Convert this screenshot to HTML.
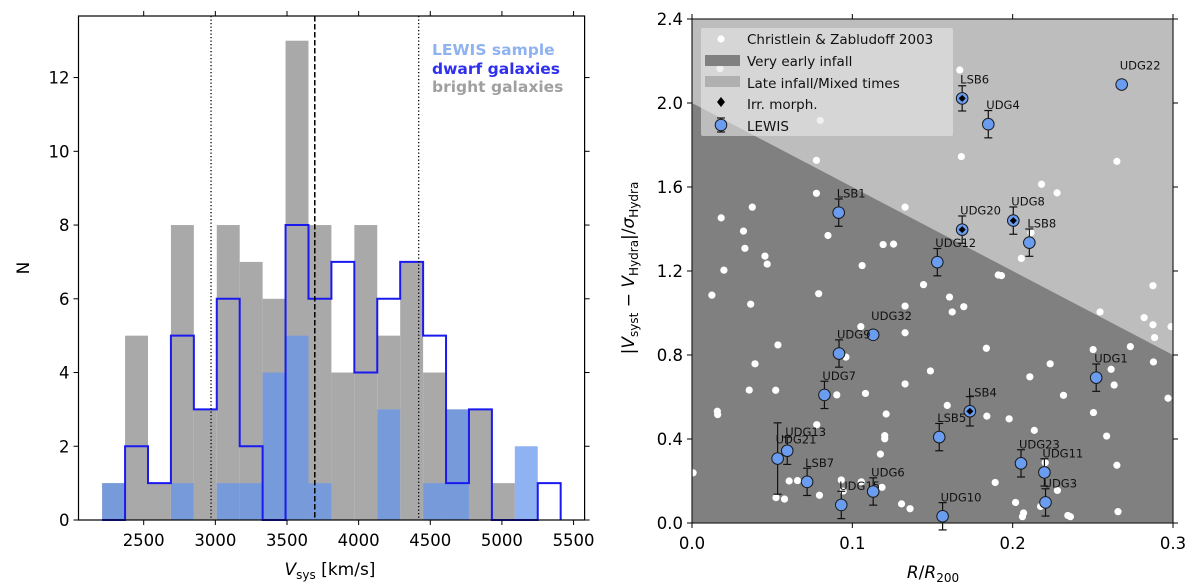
<!DOCTYPE html>
<html><head><meta charset="utf-8">
<style>
html,body{margin:0;padding:0;background:#fff;}
svg{display:block;font-family:"DejaVu Sans","Liberation Sans",sans-serif;}
</style></head>
<body>
<svg id="fig" width="1200" height="588" viewBox="0 0 1200 588">
<g id="left"></g>
<g id="right"></g>
</svg>
<script>
// ---------- Left histogram data ----------
const binStart = 2210;
const binWidth = 160;
const brightCounts = [1,5,1,8,3,8,7,6,13,8,4,8,5,7,4,3,3,1,0,0];
const lewisCounts  = [1,0,0,1,0,1,1,4,5,1,0,0,3,0,1,3,0,0,2,0];
const dwarfCounts  = [0,2,1,5,3,6,2,0,8,6,7,4,6,7,5,1,3,0,0,1];
const vLinesDotted = [2970, 4419];
const vLineDashed = [3694];
const leftXTicks = [2500,3000,3500,4000,4500,5000,5500];
const leftYTicks = [0,2,4,6,8,10,12];

// ---------- Right scatter data ----------
const czX = [0.0175,0.080,0.167,0.168,0.265,0.0776,0.0776,0.218,0.2277,0.1329,0.0376,0.0182,0.0321,0.0848,0.2114,0.033,0.0455,0.0469,0.0199,0.1192,0.1257,0.1061,0.2054,0.191,0.193,0.1444,0.0124,0.079,0.2875,0.0366,0.1329,0.1606,0.1623,0.1695,0.2545,0.282,0.2875,0.2885,0.2988,0.1053,0.1329,0.0536,0.2734,0.2502,0.1836,0.0393,0.096,0.2234,0.2878,0.2614,0.2107,0.1487,0.0357,0.0522,0.1329,0.1082,0.0903,0.2633,0.2317,0.2969,0.1592,0.1211,0.1839,0.1978,0.2504,0.0158,0.016,0.0778,0.2135,0.1202,0.1202,0.2586,0.1175,0.265,0.2203,0.0007,0.0606,0.0658,0.1891,0.0931,0.0943,0.1056,0.1185,0.0795,0.0524,0.0577,0.1307,0.136,0.2018,0.2068,0.2061,0.2174,0.2279,0.2344,0.236,0.2657];
const czY = [2.163,1.917,2.157,1.745,1.722,1.727,1.570,1.613,1.572,1.504,1.504,1.453,1.390,1.369,1.383,1.308,1.271,1.233,1.204,1.326,1.328,1.226,1.260,1.181,1.178,1.135,1.085,1.092,1.130,1.042,1.033,1.076,1.005,1.030,1.005,0.978,0.944,0.883,0.935,0.935,0.906,0.848,0.840,0.826,0.832,0.758,0.790,0.758,0.767,0.732,0.696,0.724,0.633,0.632,0.662,0.617,0.610,0.657,0.608,0.594,0.560,0.519,0.509,0.496,0.526,0.532,0.516,0.468,0.441,0.416,0.401,0.414,0.328,0.275,0.287,0.239,0.200,0.202,0.193,0.205,0.152,0.196,0.170,0.132,0.121,0.114,0.091,0.068,0.098,0.048,0.030,0.079,0.155,0.036,0.030,0.054];
const lewisNames = ["UDG22","LSB6","UDG4","LSB1","UDG20","UDG8","LSB8","UDG12","UDG32","UDG9","UDG7","UDG1","LSB4","LSB5","UDG21","UDG13","LSB7","UDG15","UDG6","UDG10","UDG23","UDG11","UDG3"];
const lewisX = [0.268,0.1685,0.1848,0.0915,0.1685,0.2004,0.2104,0.153,0.113,0.0917,0.0826,0.2521,0.1733,0.1542,0.0534,0.0594,0.0718,0.0931,0.113,0.1563,0.2052,0.2198,0.2205];
const lewisY = [2.088,2.022,1.899,1.478,1.397,1.440,1.335,1.242,0.896,0.807,0.610,0.692,0.532,0.409,0.307,0.344,0.196,0.086,0.150,0.032,0.284,0.241,0.098];
const lewisErr = [0,0.06,0.065,0.065,0.065,0.065,0.065,0.065,0,0.065,0.065,0.065,0.07,0.065,0.17,0.065,0.065,0.065,0.065,0.065,0.065,0.065,0.065];
const lewisIrr = [0,1,0,0,1,1,0,0,0,0,0,0,1,0,0,0,0,0,0,0,0,0,0];
const boundaryX = [0, 0.3];
const boundaryY = [2.0, 0.8];
const rightXTicks = [0.0,0.1,0.2,0.3];
const rightYTicks = [0.0,0.4,0.8,1.2,1.6,2.0,2.4];

const NS = "http://www.w3.org/2000/svg";
function mk(tag, attrs, parent){const e=document.createElementNS(NS,tag);for(const k in attrs)e.setAttribute(k,attrs[k]);parent.appendChild(e);return e;}

// ====== LEFT ======
const L = document.getElementById('left');
const LX0=78.5, LX1=584.6, LY0=520, LY1=16;
const lxMin=2045, lxMax=5577, lyMin=0, lyMax=13.67;
const lx = v => LX0 + (v-lxMin)/(lxMax-lxMin)*(LX1-LX0);
const ly = v => LY0 - (v-lyMin)/(lyMax-lyMin)*(LY0-LY1);

brightCounts.forEach((c,i)=>{ if(!c) return;
  const r=mk('rect',{x:lx(binStart+i*binWidth),y:ly(c),width:lx(binStart+(i+1)*binWidth)-lx(binStart+i*binWidth),height:ly(0)-ly(c),fill:'#a9a9a9'},L);
  
  
});
lewisCounts.forEach((c,i)=>{ if(!c) return;
  const r=mk('rect',{x:lx(binStart+i*binWidth),y:ly(c),width:lx(binStart+(i+1)*binWidth)-lx(binStart+i*binWidth),height:ly(0)-ly(c),fill:'#6495ed','fill-opacity':0.72},L);
  
  
});
{ let d='M'+lx(binStart)+','+ly(0);
  dwarfCounts.forEach((c,i)=>{ d+=' L'+lx(binStart+i*binWidth)+','+ly(c)+' L'+lx(binStart+(i+1)*binWidth)+','+ly(c); });
  d+=' L'+lx(binStart+dwarfCounts.length*binWidth)+','+ly(0);
  const p=mk('path',{d:d,fill:'none',stroke:'#1a1af0','stroke-width':2,'stroke-linejoin':'miter'},L);
  
  
}
vLinesDotted.forEach(v=>{
  const l=mk('line',{x1:lx(v),x2:lx(v),y1:LY1,y2:LY0,stroke:'#000','stroke-width':1.3,'stroke-dasharray':'1.3,2.2'},L);
  
  
});
vLineDashed.forEach(v=>{
  const l=mk('line',{x1:lx(v),x2:lx(v),y1:LY1,y2:LY0,stroke:'#000','stroke-width':1.5,'stroke-dasharray':'5.5,2.5'},L);
  
  
});
{ const f=mk('rect',{x:LX0,y:LY1,width:LX1-LX0,height:LY0-LY1,fill:'none',stroke:'#000','stroke-width':1.2},L);
    }
leftXTicks.forEach(t=>{
  const x=lx(t);
  mk('line',{x1:x,x2:x,y1:LY0,y2:LY0+5,stroke:'#000','stroke-width':1},L);
  mk('line',{x1:x,x2:x,y1:LY1,y2:LY1-5,stroke:'#000','stroke-width':1},L);
  const tx=mk('text',{x:x,y:LY0+26,'text-anchor':'middle','font-size':16.5,fill:'#000'},L); tx.textContent=t;
   
});
leftYTicks.forEach(t=>{
  const y=ly(t);
  mk('line',{x1:LX0-5,x2:LX0,y1:y,y2:y,stroke:'#000','stroke-width':1},L);
  mk('line',{x1:LX1,x2:LX1+5,y1:y,y2:y,stroke:'#000','stroke-width':1},L);
  const tx=mk('text',{x:LX0-9,y:y+6,'text-anchor':'end','font-size':16.5,fill:'#000'},L); tx.textContent=t;
   
});
{ const t=mk('text',{x:0,y:0,'font-size':17,'text-anchor':'middle',transform:'translate(29,268) rotate(-90)'},L); t.textContent='N';
   
  const xt=mk('text',{x:330,y:575,'font-size':17,'text-anchor':'middle'},L);
  xt.innerHTML='<tspan font-style="italic">V</tspan><tspan font-size="12" dy="4">sys</tspan><tspan dy="-4"> [km/s]</tspan>';
   
  const leg=[['LEWIS sample','#8fb2f0',55],['dwarf galaxies','#2f2fee',74],['bright galaxies','#a0a0a0',92]];
  leg.forEach(e=>{const g=mk('text',{x:432,y:e[2],'font-size':15.5,'font-weight':'bold',fill:e[1]},L); g.textContent=e[0];
     });
}

// ====== RIGHT ======
const R = document.getElementById('right');
const RX0=692, RX1=1173, RY0=523, RY1=19;
const rx = v => RX0 + v/0.3*(RX1-RX0);
const ry = v => RY0 - v/2.4*(RY0-RY1);
{ const bg=mk('rect',{x:RX0,y:RY1,width:RX1-RX0,height:RY0-RY1,fill:'#bdbdbd'},R);
   
  const poly=mk('polygon',{points:`${rx(boundaryX[0])},${ry(boundaryY[0])} ${rx(boundaryX[1])},${ry(boundaryY[1])} ${rx(0.3)},${ry(0)} ${rx(0)},${ry(0)}`,fill:'#808080'},R);
   
}
czX.forEach((x,i)=>{
  const c=mk('circle',{cx:rx(x),cy:ry(czY[i]),r:3.6,fill:'#fff'},R);
  
  
});
lewisX.forEach((x,i)=>{
  const cx=rx(x), cy=ry(lewisY[i]);
  if(lewisErr[i]>0){
    const y1=ry(lewisY[i]+lewisErr[i]), y2=ry(lewisY[i]-lewisErr[i]);
    mk('line',{x1:cx,x2:cx,y1:y1,y2:y2,stroke:'#111','stroke-width':1.2},R);
    mk('line',{x1:cx-4,x2:cx+4,y1:y1,y2:y1,stroke:'#111','stroke-width':1.2},R);
    mk('line',{x1:cx-4,x2:cx+4,y1:y2,y2:y2,stroke:'#111','stroke-width':1.2},R);
  }
  const c=mk('circle',{cx:cx,cy:cy,r:5.8,fill:'#6a9cf0',stroke:'#1a1a1a','stroke-width':1},R);
  
  
  if(lewisIrr[i]){
    const d=mk('polygon',{points:`${cx},${cy-3.5} ${cx+3.5},${cy} ${cx},${cy+3.5} ${cx-3.5},${cy}`,fill:'#000'},R);
    
    
  }
  const t=mk('text',{x:cx-2,y:cy-15,'font-size':11.5,fill:'#111'},R); t.textContent=lewisNames[i];
  
  
});
{ const f=mk('rect',{x:RX0,y:RY1,width:RX1-RX0,height:RY0-RY1,fill:'none',stroke:'#222','stroke-width':1.2},R);
    }
rightXTicks.forEach(t=>{
  const x=rx(t);
  mk('line',{x1:x,x2:x,y1:RY0,y2:RY0+5,stroke:'#000','stroke-width':1},R);
  mk('line',{x1:x,x2:x,y1:RY1,y2:RY1-5,stroke:'#000','stroke-width':1},R);
  const tx=mk('text',{x:x,y:RY0+26,'text-anchor':'middle','font-size':16.5},R); tx.textContent=t.toFixed(1);
   
});
rightYTicks.forEach(t=>{
  const y=ry(t);
  mk('line',{x1:RX0-5,x2:RX0,y1:y,y2:y,stroke:'#000','stroke-width':1},R);
  mk('line',{x1:RX1,x2:RX1+5,y1:y,y2:y,stroke:'#000','stroke-width':1},R);
  const tx=mk('text',{x:RX0-9,y:y+6,'text-anchor':'end','font-size':16.5},R); tx.textContent=t.toFixed(1);
   
});
{ // legend
  const g=mk('g',{},R);  
  mk('rect',{x:701,y:28,width:252,height:108,fill:'#e6e6e6','fill-opacity':0.6,rx:2},g);
  mk('circle',{cx:721,cy:39,r:3.6,fill:'#fff'},g);
  mk('rect',{x:705,y:55,width:35,height:11,fill:'#808080'},g);
  mk('rect',{x:705,y:76,width:35,height:11,fill:'#b0b0b0'},g);
  mk('polygon',{points:'721,97 725,102 721,107 717,102',fill:'#000'},g);
  mk('line',{x1:721,x2:721,y1:118,y2:132,stroke:'#111','stroke-width':1.2},g);
  mk('line',{x1:717,x2:725,y1:118,y2:118,stroke:'#111','stroke-width':1.2},g);
  mk('line',{x1:717,x2:725,y1:132,y2:132,stroke:'#111','stroke-width':1.2},g);
  mk('circle',{cx:721,cy:125,r:5.8,fill:'#6a9cf0',stroke:'#1a1a1a','stroke-width':1},g);
  const labels=[['Christlein & Zabludoff 2003',44],['Very early infall',66],['Late infall/Mixed times',88],['Irr. morph.',109],['LEWIS',131]];
  labels.forEach(l=>{const t=mk('text',{x:747,y:l[1],'font-size':13.5,fill:'#111'},g); t.textContent=l[0];
     });
}
{ const yt=mk('text',{x:0,y:0,'font-size':17,'text-anchor':'middle',transform:'translate(634,268) rotate(-90)'},R);
  yt.innerHTML='|<tspan font-style="italic">V</tspan><tspan font-size="12" dy="4">syst</tspan><tspan dy="-4"> − </tspan><tspan font-style="italic">V</tspan><tspan font-size="12" dy="4">Hydra</tspan><tspan dy="-4">|/</tspan><tspan font-style="italic">σ</tspan><tspan font-size="12" dy="4">Hydra</tspan>';
   
  const xt=mk('text',{x:933,y:578,'font-size':17,'text-anchor':'middle'},R);
  xt.innerHTML='<tspan font-style="italic">R</tspan>/<tspan font-style="italic">R</tspan><tspan font-size="12" dy="4">200</tspan>';
   
}
</script>
</body></html>
